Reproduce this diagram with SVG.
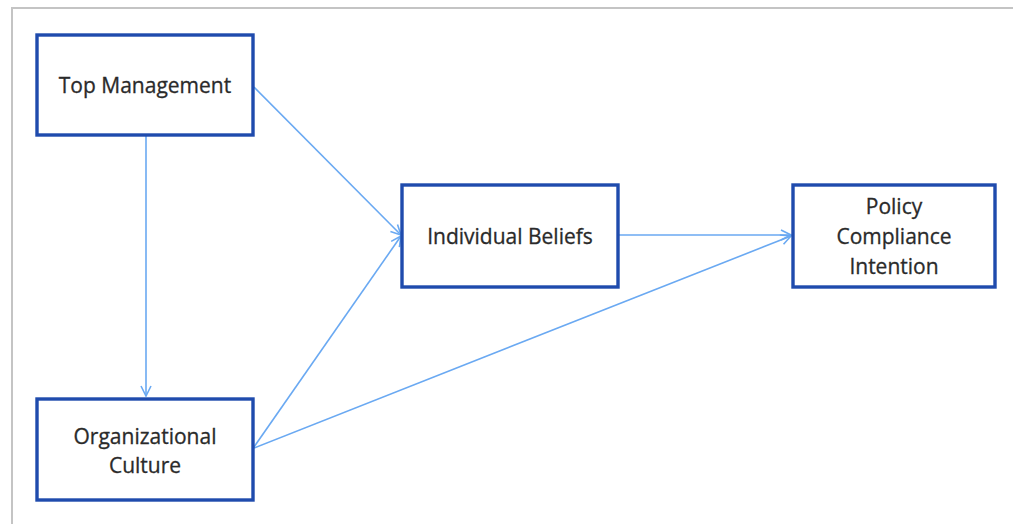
<svg xmlns="http://www.w3.org/2000/svg" width="1013" height="524" viewBox="0 0 1013 524">
<defs>
<style>
.box{fill:#fff;stroke:#1f4bad;stroke-width:3.4}
.lbl{font-family:"Open Sans","Liberation Sans",sans-serif;font-size:21px;fill:#2a2a2a;stroke:#2a2a2a;stroke-width:0.3;text-anchor:middle;dominant-baseline:central}
.edge{stroke:#6aa9f2;stroke-width:1.6;fill:none;marker-end:url(#arr)}
</style>
<marker id="arr" viewBox="0 0 12 12" refX="11" refY="6" markerWidth="12" markerHeight="12" markerUnits="userSpaceOnUse" orient="auto">
<path d="M1,1 L11,6 L1,11" fill="none" stroke="#6aa9f2" stroke-width="1.6"/>
</marker>
</defs>
<rect width="1013" height="524" fill="#fff"/>
<path d="M12,524 V8 H1013" fill="none" stroke="#c4c4c4" stroke-width="2"/>
<g id="connectors">
<line class="edge" x1="146" y1="136" x2="146" y2="396"/>
<line class="edge" x1="254" y1="87" x2="401" y2="235"/>
<line class="edge" x1="254" y1="447" x2="401" y2="236"/>
<line class="edge" x1="254" y1="448" x2="791" y2="236"/>
<line class="edge" x1="619" y1="235" x2="791" y2="235"/>
</g>
<g id="top-management">
<rect class="box" x="37" y="35" width="216" height="100"/>
<text class="lbl" x="145" y="85">Top Management</text>
</g>
<g id="individual-beliefs">
<rect class="box" x="402" y="185" width="216" height="102"/>
<text class="lbl" x="510" y="236">Individual Beliefs</text>
</g>
<g id="policy-compliance-intention">
<rect class="box" x="793" y="185" width="202" height="102"/>
<text class="lbl" x="894" y="206">Policy</text>
<text class="lbl" x="894" y="236">Compliance</text>
<text class="lbl" x="894" y="266">Intention</text>
</g>
<g id="organizational-culture">
<rect class="box" x="37" y="399" width="216" height="101"/>
<text class="lbl" x="145" y="436">Organizational</text>
<text class="lbl" x="145" y="465">Culture</text>
</g>
</svg>
